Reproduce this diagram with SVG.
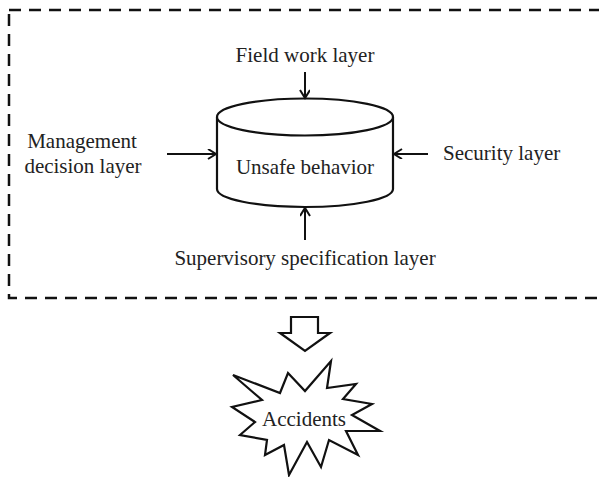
<svg xmlns="http://www.w3.org/2000/svg" width="599" height="477" viewBox="0 0 599 477">
<style>
.t{font-family:'Liberation Serif','Times New Roman',serif;font-size:21px;fill:#222;}
.ln{stroke:#111;stroke-width:2;fill:none;}
.sh{stroke:#111;stroke-width:2.2;fill:#fff;stroke-linejoin:miter;}
</style>
<defs>
<marker id="ah" markerWidth="12" markerHeight="12" refX="9" refY="5" orient="auto" markerUnits="userSpaceOnUse">
<path d="M1,0 L9,5 L1,10" fill="none" stroke="#111" stroke-width="2"/>
</marker>
</defs>
<rect x="9" y="10" width="600" height="288" fill="none" stroke="#111" stroke-width="2.5" stroke-dasharray="12,8"/>
<g id="cylinder">
<path class="sh" d="M217,117 L217,189 A88,18 0 0 0 393,189 L393,117"/>
<ellipse class="sh" cx="305" cy="117" rx="88" ry="18.5"/>
<text class="t" x="305" y="174" text-anchor="middle">Unsafe behavior</text>
</g>
<g id="field"><text class="t" x="305" y="62" text-anchor="middle">Field work layer</text></g>
<g id="management"><text class="t" x="82" y="148" text-anchor="middle">Management</text><text class="t" x="83" y="173" text-anchor="middle">decision layer</text></g>
<g id="security"><text class="t" x="443" y="160">Security layer</text></g>
<g id="supervisory"><text class="t" x="305" y="265" text-anchor="middle">Supervisory specification layer</text></g>
<g id="connectors">
<line class="ln" x1="305" y1="72" x2="305" y2="98" marker-end="url(#ah)"/>
<line class="ln" x1="167" y1="154" x2="216" y2="154" marker-end="url(#ah)"/>
<line class="ln" x1="428" y1="154" x2="394" y2="154" marker-end="url(#ah)"/>
<line class="ln" x1="305" y1="240" x2="305" y2="208" marker-end="url(#ah)"/>
<path class="sh" d="M291,317 L318,317 L318,333 L330,333 L305,351 L280,333 L291,333 Z"/>
</g>
<g id="accidents">
<path class="sh" d="M331,361 L327,388 L356,384 L343,399 L372,404 L352,415 L380,431 L346,431 L358,455 L329,440 L321,467 L307,442 L289,475 L284,445 L265,455 L267,440 L240,435 L255,422 L232,407 L262,400 L233,375 L280,393 L288,373 L305,391 Z"/>
<text class="t" x="304" y="426" text-anchor="middle">Accidents</text>
</g>
</svg>
